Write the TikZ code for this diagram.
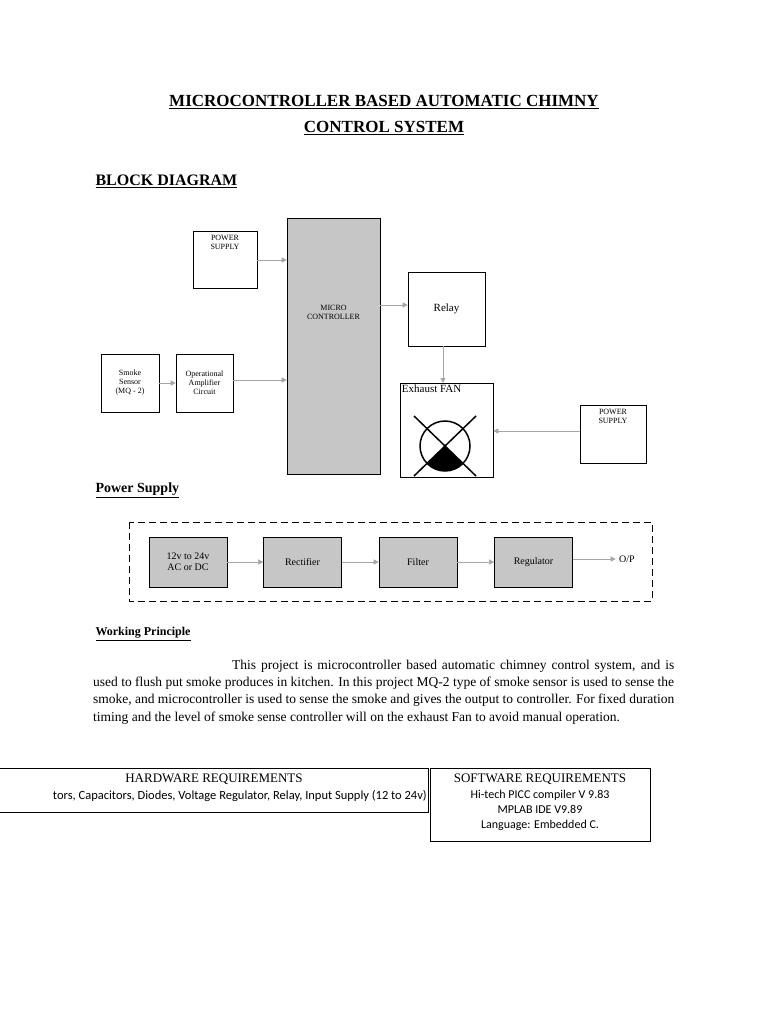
\documentclass[tikz,border=0pt]{standalone}
\usepackage{fontspec}
\setmainfont{Liberation Serif}
\newfontfamily\carlito{Carlito}
\usetikzlibrary{arrows.meta}
\begin{document}
\begin{tikzpicture}[x=1pt,y=-1pt,
  blk/.style={draw,line width=0.6pt,inner sep=0pt},
  gblk/.style={blk,fill=gray!45},
  arr/.style={-{Triangle[length=5pt,width=5pt]},line width=0.4pt,gray!70,shorten >=0pt},
  tiny/.style={font=\fontsize{8}{9}\selectfont,align=center}]
\useasboundingbox (0,0) rectangle (768,1024);
\node[font=\bfseries\fontsize{17}{20}\selectfont] (t1) at (384,102) {\underline{MICROCONTROLLER BASED AUTOMATIC CHIMNY}};
\node[font=\bfseries\fontsize{17}{20}\selectfont] (t2) at (384,128) {\underline{CONTROL SYSTEM}};
\node[font=\bfseries\fontsize{16}{19}\selectfont,anchor=west] (bd) at (92,181) {\underline{BLOCK DIAGRAM}};
% block diagram
\node[blk,minimum width=64,minimum height=57] (ps1) at (225,259.5) {};
\node[tiny,anchor=north] at (ps1.north) {\strut POWER\\SUPPLY};
\node[gblk,minimum width=93,minimum height=256] (mc) at (333.5,346) {};
\node[tiny] at (333.5,312) {MICRO\\CONTROLLER};
\node[blk,minimum width=77,minimum height=74,font=\fontsize{11}{13}\selectfont] (relay) at (446.5,309) {Relay};
\node[blk,minimum width=58,minimum height=58,tiny] (ss) at (130,383) {Smoke\\Sensor\\(MQ - 2)};
\node[blk,minimum width=57,minimum height=58,tiny] (oa) at (204.5,383) {Operational\\Amplifier\\Circuit};
\node[blk,minimum width=93,minimum height=94] (fan) at (446.5,430) {};
\node[anchor=north west,font=\fontsize{11}{13}\selectfont,inner sep=2pt] at (fan.north west) {Exhaust FAN};
\node[blk,minimum width=66,minimum height=58] (ps2) at (613,434) {};
\node[tiny,anchor=north] at (ps2.north) {\strut POWER\\SUPPLY};
% fan symbol
\coordinate (fc) at (445,446);
\fill (fc) -- ++(-45:-25) arc[start angle=225,end angle=315,radius=25] -- cycle;
\fill (fc) -- ++(45:25) arc[start angle=45,end angle=135,radius=25] -- cycle;
\draw[line width=1.5pt] (fc) circle[radius=25];
\draw[line width=1.5pt] (414,416) -- (476,476) (476,416) -- (414,476);
% arrows
\draw[arr] (ps1.east|-0,260) -- (mc.west|-0,260);
\draw[arr] (oa.east|-0,380) -- (mc.west|-0,380);
\draw[arr] (ss.east|-0,383) -- (oa.west|-0,383);
\draw[arr] (mc.east|-0,305) -- (relay.west|-0,305);
\draw[arr] (443,346) -- (443,383);
\draw[arr] (ps2.west|-0,431) -- (fan.east|-0,431);
% power supply
\node[font=\bfseries\fontsize{14}{17}\selectfont,anchor=west] (psh) at (92,490) {\underline{Power Supply}};
\draw[dashed,dash pattern=on 7pt off 4pt,line width=0.7pt] (129,522) rectangle (652,601);
\begin{scope}[every node/.style={gblk,minimum width=78,minimum height=50,font=\fontsize{10}{11}\selectfont,align=center}]
\node (p1) at (188,562) {12v to 24v\\AC or DC};
\node (p2) at (302.5,562) {Rectifier};
\node (p3) at (418,562) {Filter};
\node (p4) at (533.5,562) {Regulator};
\end{scope}
\node[font=\fontsize{10}{11}\selectfont] (op) at (627,559) {O/P};
\draw[arr] (p1) -- (p2);
\draw[arr] (p2) -- (p3);
\draw[arr] (p3) -- (p4);
\draw[arr] (p4.east|-0,559) -- (op.west);
% working principle
\node[font=\bfseries\fontsize{12}{14}\selectfont,anchor=west] (wp) at (92,634) {\underline{Working Principle}};
\node[anchor=north west,text width=581,align=justify,font=\fontsize{13.5}{17.2}\selectfont,inner sep=0pt] (para) at (93,660)
{\hspace*{139pt}This project is microcontroller based automatic chimney control system, and is used to flush put smoke produces in kitchen. In this project MQ-2 type of smoke sensor is used to sense the smoke, and microcontroller is used to sense the smoke and gives the output to controller. For fixed duration timing and the level of smoke sense controller will on the exhaust Fan to avoid manual operation.};
% requirements
\draw[line width=0.8pt] (-2,768) rectangle (428,812);
\node[draw,line width=0.8pt,minimum width=220,minimum height=73,inner sep=0pt] (sw) at (540,804.5) {};
\node[font=\fontsize{13}{15}\selectfont] (hwh) at (214,779) {HARDWARE REQUIREMENTS};
\node[font=\carlito\fontsize{12.5}{15}\selectfont,anchor=east,inner sep=0pt] (hwt) at (427,796) {tors, Capacitors, Diodes, Voltage Regulator, Relay, Input Supply (12 to 24v)};
\node[font=\fontsize{13}{15}\selectfont] (swh) at (540,779) {SOFTWARE REQUIREMENTS};
\node[font=\carlito\fontsize{12}{15}\selectfont,align=center,anchor=north] (swt) at (540,787) {Hi-tech PICC compiler V 9.83\\MPLAB IDE V9.89\\Language: Embedded C.};
\end{tikzpicture}
\end{document}
